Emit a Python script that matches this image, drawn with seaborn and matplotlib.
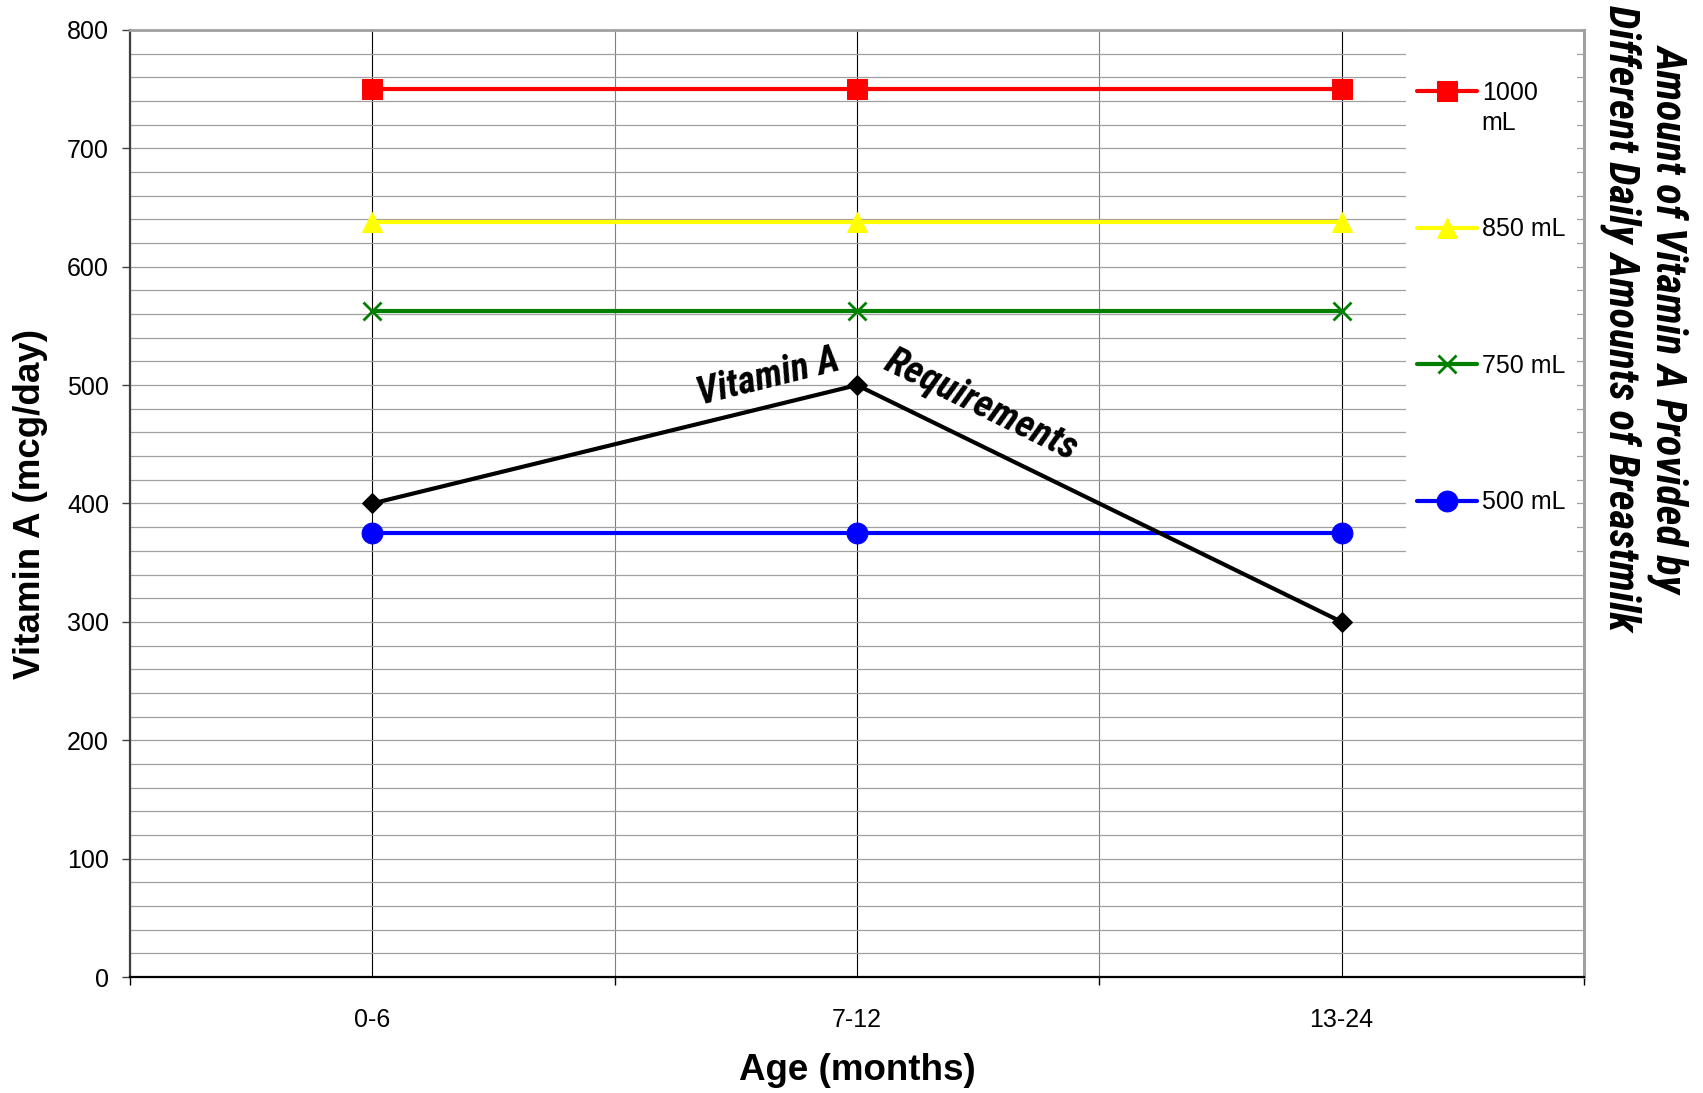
import numpy as np
import pandas as pd
import seaborn as sns
import matplotlib.pyplot as plt
from matplotlib import font_manager
from matplotlib.ticker import MultipleLocator, FixedLocator
from matplotlib.patches import Rectangle

##Data
ages = ["0-6", "7-12", "13-24"]
series_names = ["1000 mL", "850 mL", "750 mL", "500 mL", "Requirements"]
provided_1000 = [750, 750, 750]
provided_850 = [637.5, 637.5, 637.5]
provided_750 = [562.5, 562.5, 562.5]
provided_500 = [375, 375, 375]
requirements = [400, 500, 300]

pos = np.arange(len(ages))
df = pd.DataFrame({
    "pos": np.tile(pos, 5),
    "value": provided_1000 + provided_850 + provided_750 + provided_500 + requirements,
    "series": np.repeat(series_names, len(ages)),
})

##Styles
styles = {
    "1000 mL": dict(color="#FF0000", marker="s", markersize=14, mec="#FF0000"),
    "850 mL": dict(color="#FFFF00", marker="^", markersize=15, mec="#FFFF00"),
    "750 mL": dict(color="#008000", marker="x", markersize=13, mec="#008000", mew=2),
    "500 mL": dict(color="#0000FF", marker="o", markersize=15, mec="#0000FF"),
    "Requirements": dict(color="#000000", marker="D", markersize=10, mec="#000000"),
}

sns.set_theme(style="white")
names = {f.name for f in font_manager.fontManager.ttflist}
narrow = next((n for n in ["Liberation Sans Narrow", "Roboto Condensed", "Liberation Sans"] if n in names), "DejaVu Sans")
plt.rcParams["font.family"] = ["Liberation Sans", "DejaVu Sans"]
plt.rcParams["text.color"] = "black"
plt.rcParams["axes.labelcolor"] = "black"

fig = plt.figure(figsize=(17.03, 10.93), dpi=100)
ax = fig.add_axes([0.0763, 0.1061, 0.9301 - 0.0763, 0.9726 - 0.1061])

for i, name in enumerate(series_names):
    sub = df[df["series"] == name]
    sns.lineplot(data=sub, x="pos", y="value", ax=ax, linewidth=3, errorbar=None,
                 sort=False, legend=False, zorder=3 + i, **styles[name])

##Axes
ax.set_xlim(-0.5, 2.5)
ax.set_ylim(0, 800)
ax.set_xticks(pos)
ax.set_xticklabels(ages)
ax.xaxis.set_minor_locator(FixedLocator([-0.5, 0.5, 1.5, 2.5]))
ax.yaxis.set_major_locator(MultipleLocator(100))
ax.yaxis.set_minor_locator(MultipleLocator(20))
ax.set_axisbelow(True)
ax.grid(which="both", axis="y", color="#A0A0A0", lw=0.9)
ax.grid(which="major", axis="x", color="#000000", lw=0.8)
ax.grid(which="minor", axis="x", color="#808080", lw=0.8)

ax.tick_params(axis="x", which="major", length=0, pad=22, labelsize=18, labelcolor="black")
ax.tick_params(axis="x", which="minor", length=6, width=1, color="black", direction="out", bottom=True)
ax.tick_params(axis="y", which="major", length=6, width=1, color="#404040", direction="out",
               left=True, pad=9, labelsize=18, labelcolor="black")
ax.tick_params(axis="y", which="minor", length=0)

ax.spines["left"].set_color("#404040")
ax.spines["left"].set_linewidth(1.6)
ax.spines["bottom"].set_color("#000000")
ax.spines["bottom"].set_linewidth(1.6)
ax.spines["top"].set_color("#A0A0A0")
ax.spines["top"].set_linewidth(2)
ax.spines["right"].set_color("#A0A0A0")
ax.spines["right"].set_linewidth(2.2)

ax.set_xlabel("Age (months)", fontsize=26.5, fontweight="bold", color="black")
ax.set_ylabel("Vitamin A (mcg/day)", fontsize=26.5, fontweight="bold", color="black")
ax.xaxis.set_label_coords(0.5, -0.080)
ax.yaxis.set_label_coords(-0.0565, 0.5)

##Legend
ax.add_patch(Rectangle((0.8776, 0.4256), 0.1176, 0.5744, transform=ax.transAxes,
                       facecolor="white", edgecolor="none", zorder=1))
handles = ax.lines[:4]
leg = ax.legend(handles, ["1000", "850 mL", "750 mL", "500 mL"], loc="upper left",
                bbox_to_anchor=(0.885, 0.9461), borderaxespad=0, borderpad=0,
                frameon=False, handlelength=2.4, handletextpad=0.2,
                labelspacing=4.5, fontsize=18, labelcolor="black")
ax.annotate("mL", xy=(0, 0), xycoords=leg.get_texts()[0], xytext=(0, -4),
            textcoords="offset points", va="top", ha="left", fontsize=18,
            color="black", zorder=10)

##Text on requirement line
ax.text(0.816, 507, "Vitamin A", rotation=14, ha="center", va="center", color="black",
        fontsize=27.5, fontweight="bold", fontstyle="italic", family=[narrow, "DejaVu Sans"])
ax.text(1.256, 483, "Requirements", rotation=-26, ha="center", va="center", color="black",
        fontsize=28, fontweight="bold", fontstyle="italic", family=[narrow, "DejaVu Sans"])

fig.text(0.966, 0.709, "Amount of Vitamin A Provided by\nDifferent Daily Amounts of Breastmilk",
         rotation=-90, ha="center", va="center", multialignment="center", linespacing=1.25,
         color="black", fontsize=30.5, fontweight="bold", fontstyle="italic",
         family=[narrow, "DejaVu Sans"])

fig.savefig("out.png", dpi=100)
